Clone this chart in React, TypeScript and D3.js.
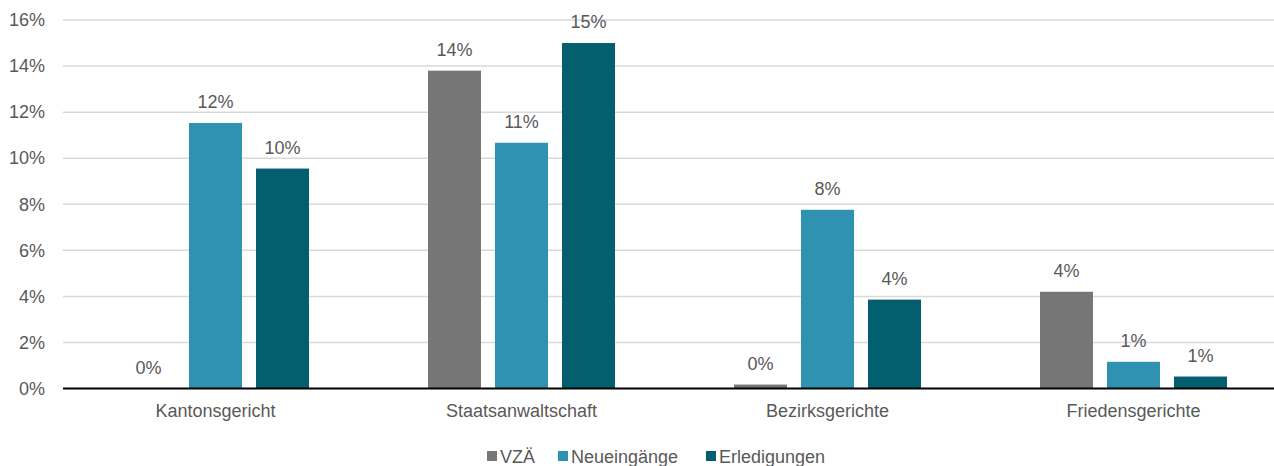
import React, { useRef, useEffect } from "react";
import * as d3 from "d3";

const categories = ["Kantonsgericht", "Staatsanwaltschaft", "Bezirksgerichte", "Friedensgerichte"];
const seriesNames = ["VZÄ", "Neueingänge", "Erledigungen"];
const seriesColors = ["#767676", "#2e92b0", "#035f6e"];
const vzaValues = [0.0, 13.8, 0.17, 4.2];
const neuValues = [11.53, 10.67, 7.76, 1.16];
const erlValues = [9.55, 15.0, 3.86, 0.52];
const yTicks = [0, 2, 4, 6, 8, 10, 12, 14, 16];

const W = 1274;
const H = 466;

const App = () => {
  const ref = useRef<SVGSVGElement | null>(null);

  useEffect(() => {
    if (!ref.current) return;
    const svg = d3.select(ref.current);
    svg.selectAll("*").remove();

    const left = 63;
    const right = 1274;
    const top = 20;
    const bottom = 388.5;
    const font = "'Liberation Sans', Arial, sans-serif";
    const textColor = "#595959";
    const fs = "18px";

    const values = [vzaValues, neuValues, erlValues];

    const y = d3.scaleLinear().domain([0, 16]).range([bottom, top]);
    // die gruppen laufen rechts etwas über den bildrand hinaus
    const x0 = d3.scaleBand<string>().domain(categories).range([62.5, 1286.5]).padding(0);
    const x1 = d3
      .scaleBand<string>()
      .domain(seriesNames)
      .range([0, 187])
      .paddingInner(14 / 67);
    const groupOffset = (x0.bandwidth() - 187) / 2;

    // gitterlinien
    svg
      .append("g")
      .selectAll("line")
      .data(yTicks.filter((t) => t > 0))
      .enter()
      .append("line")
      .attr("x1", left)
      .attr("x2", right)
      .attr("y1", (d) => y(d))
      .attr("y2", (d) => y(d))
      .attr("stroke", "#d9d9d9")
      .attr("stroke-width", 1.5);

    // y-achse beschriftung
    svg
      .append("g")
      .selectAll("text")
      .data(yTicks)
      .enter()
      .append("text")
      .attr("x", 45)
      .attr("y", (d) => y(d))
      .attr("dy", "0.35em")
      .attr("text-anchor", "end")
      .style("font-family", font)
      .style("font-size", fs)
      .style("fill", textColor)
      .text((d) => `${d}%`);

    // balken + labels
    seriesNames.forEach((s, si) => {
      const g = svg.append("g");
      categories.forEach((c, ci) => {
        const v = values[si][ci];
        const bx = (x0(c) as number) + groupOffset + (x1(s) as number);
        g.append("rect")
          .attr("x", bx)
          .attr("y", y(v))
          .attr("width", x1.bandwidth())
          .attr("height", Math.max(0, bottom - y(v)))
          .attr("fill", seriesColors[si]);
        g.append("text")
          .attr("x", bx + x1.bandwidth() / 2)
          .attr("y", y(v) - 21)
          .attr("dy", "0.35em")
          .attr("text-anchor", "middle")
          .style("font-family", font)
          .style("font-size", fs)
          .style("fill", textColor)
          .text(`${Math.round(v)}%`);
      });
    });

    // x-achse
    svg
      .append("line")
      .attr("x1", left)
      .attr("x2", right)
      .attr("y1", bottom)
      .attr("y2", bottom)
      .attr("stroke", "#000")
      .attr("stroke-width", 2);

    svg
      .append("g")
      .selectAll("text")
      .data(categories)
      .enter()
      .append("text")
      .attr("x", (d) => (x0(d) as number) + x0.bandwidth() / 2)
      .attr("y", 411)
      .attr("dy", "0.35em")
      .attr("text-anchor", "middle")
      .style("font-family", font)
      .style("font-size", fs)
      .style("fill", textColor)
      .text((d) => d);

    // legende
    const legendX = [487, 558, 706];
    const legend = svg.append("g");
    seriesNames.forEach((s, i) => {
      legend
        .append("rect")
        .attr("x", legendX[i])
        .attr("y", 451)
        .attr("width", 10)
        .attr("height", 10)
        .attr("fill", seriesColors[i]);
      legend
        .append("text")
        .attr("x", legendX[i] + 13)
        .attr("y", 456.5)
        .attr("dy", "0.35em")
        .style("font-family", font)
        .style("font-size", fs)
        .style("fill", textColor)
        .text(s);
    });
  }, []);

  return (
    <svg
      ref={ref}
      width={W}
      height={H}
      style={{ position: "absolute", left: 0, top: 0, background: "#fff" }}
    />
  );
};

export default App;
